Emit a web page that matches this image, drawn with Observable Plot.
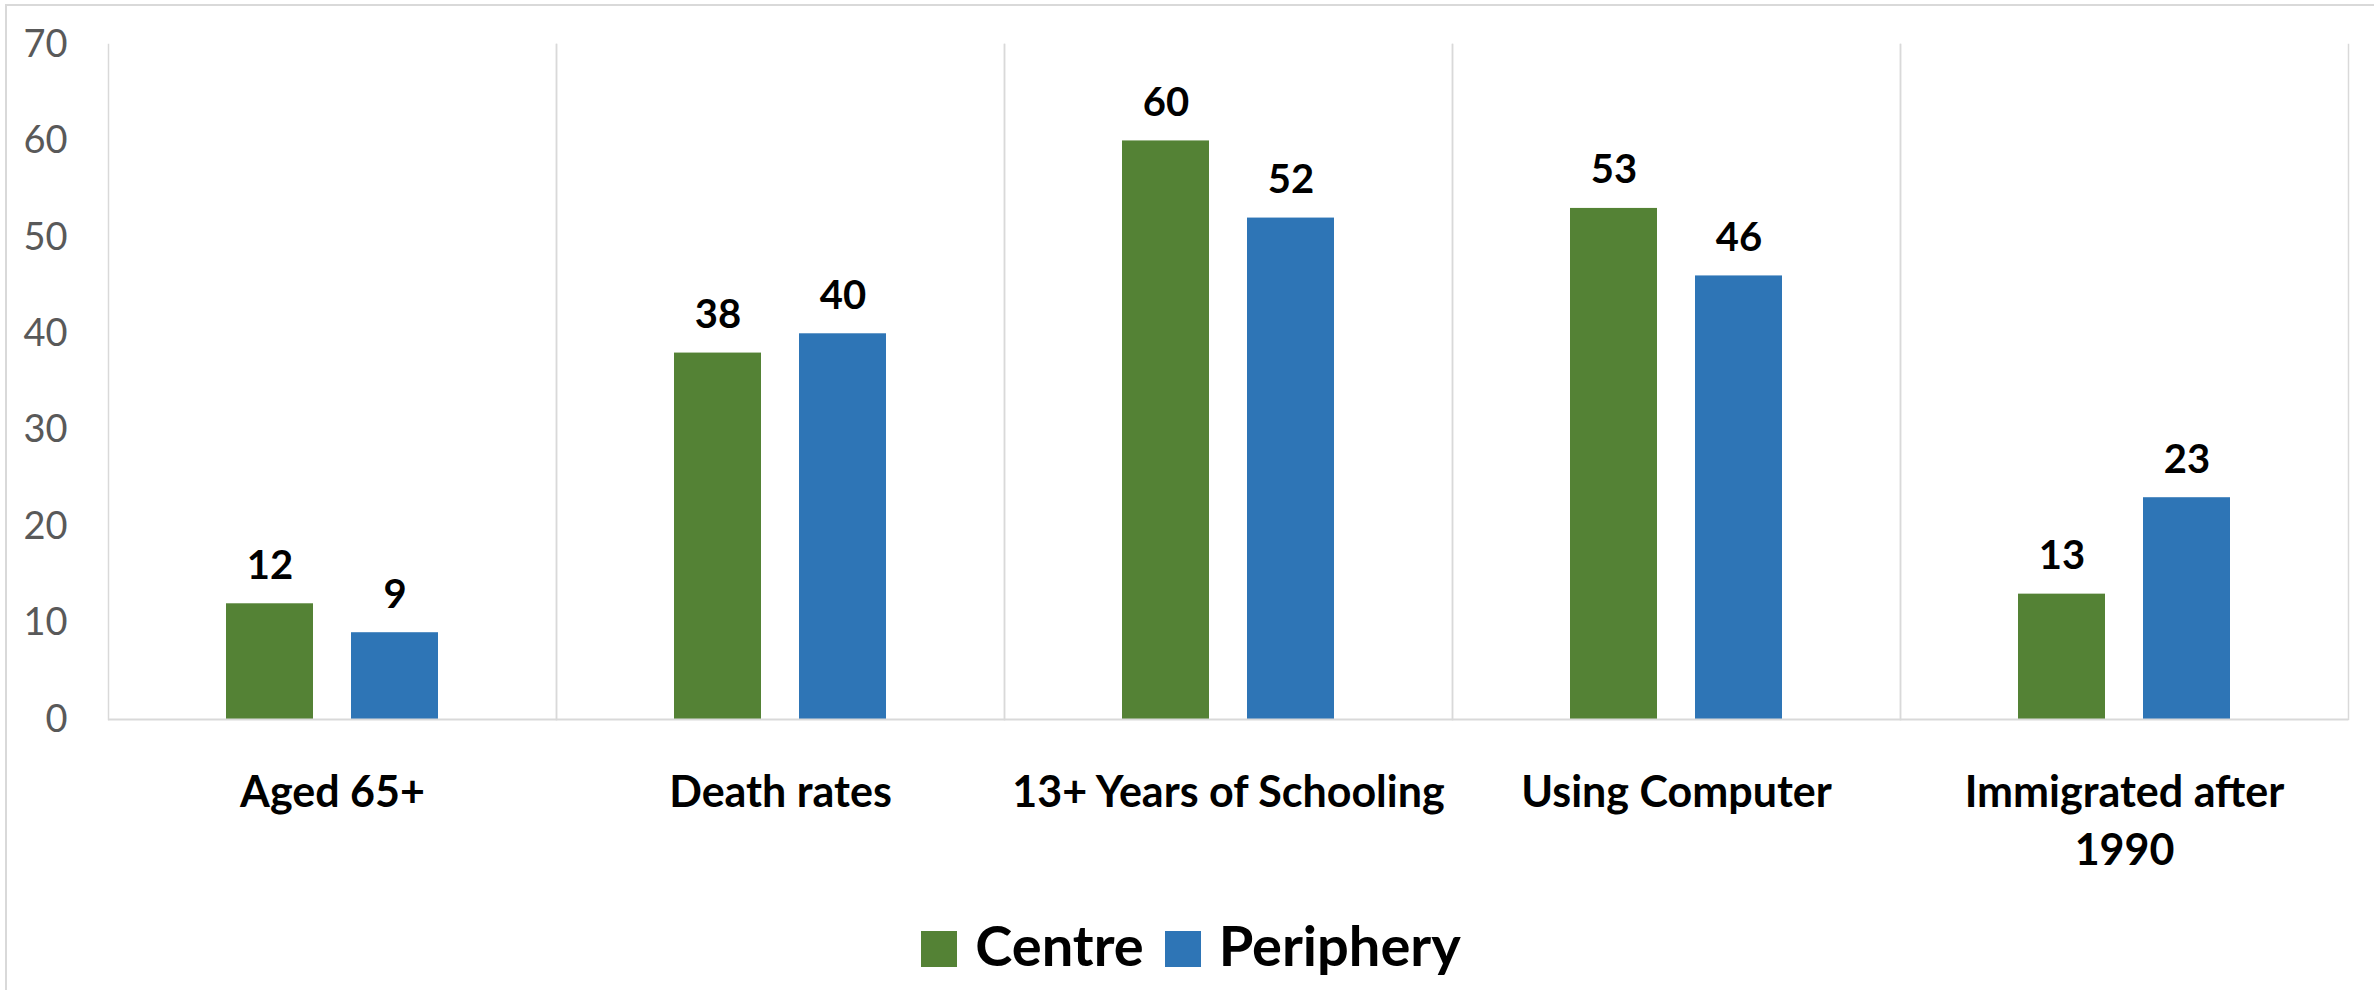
<!DOCTYPE html>
<html>
<head>
<meta charset="utf-8">
<script src="https://cdn.jsdelivr.net/npm/d3@7"></script>
<script src="https://cdn.jsdelivr.net/npm/@observablehq/plot@0.6"></script>
<style>
html, body { margin: 0; padding: 0; background: #fff; overflow: hidden; width: 2374px; height: 990px; }
#outer { position: absolute; left: 5px; top: 4px; width: 3000px; height: 2000px; border: 2px solid #d9d9d9; box-sizing: border-box; pointer-events: none; z-index: 10; }
#chart { position: absolute; left: 0; top: 0; }
#legend { position: absolute; left: 0; top: 917px; width: 2374px; height: 56px; display: flex; justify-content: center; align-items: flex-start; font-family: Lato, sans-serif; font-weight: bold; font-size: 56px; line-height: 56px; color: #000; padding-left: 8px; box-sizing: border-box; }
.item { display: flex; align-items: flex-start; margin-right: 21px; }
.item:last-child { margin-right: 0; }
.sw { width: 36px; height: 36px; margin-top: 14px; margin-right: 18px; }
</style>
</head>
<body>
<div id="outer"></div>
<div id="chart"></div>
<div id="legend"></div>
<script>
const categories = ["Aged 65+", "Death rates", "13+ Years of Schooling", "Using Computer", "Immigrated after 1990"];
const tickLabels = ["Aged 65+", "Death rates", "13+ Years of Schooling", "Using Computer", "Immigrated after\n1990"];
const series = ["Centre", "Periphery"];
const centre = [12, 38, 60, 53, 13];
const periphery = [9, 40, 52, 46, 23];
const yTicks = [0, 10, 20, 30, 40, 50, 60, 70];
const colors = ["#548235", "#2E75B6"];

const data = categories.flatMap((c, i) => [
  {cat: c, series: "Centre", value: centre[i]},
  {cat: c, series: "Periphery", value: periphery[i]}
]);

const plot = Plot.plot({
  width: 2374,
  height: 880,
  marginTop: 44,
  marginBottom: 161,
  marginLeft: 107,
  marginRight: 26,
  style: {fontFamily: "Lato, sans-serif", background: "white", overflow: "visible"},
  fx: {domain: categories, padding: 0, label: null},
  x: {domain: series, paddingInner: 0.3016, paddingOuter: 0.929, axis: null},
  y: {domain: [0, 70], label: null},
  color: {domain: series, range: colors},
  marks: [
    Plot.frame({anchor: "left", stroke: "#d9d9d9", strokeWidth: 1.5}),
    Plot.frame({anchor: "right", stroke: "#d9d9d9", strokeWidth: 1.5}),
    Plot.barY(data, {fx: "cat", x: "series", y: "value", fill: "series"}),
    Plot.ruleY([0], {stroke: "#d9d9d9", strokeWidth: 2}),
    Plot.text(data, {fx: "cat", x: "series", y: "value", text: d => String(d.value), lineAnchor: "bottom", dy: -25, fontSize: 40, fontWeight: "bold", fill: "black"}),
    Plot.axisY({ticks: yTicks, tickSize: 0, tickPadding: 41, fontSize: 38, color: "#595959", label: null}),
    Plot.axisFx({anchor: "bottom", tickSize: 0, tickPadding: 46, fontSize: 43, fontWeight: "bold", color: "black", lineHeight: 1.35, label: null,
      tickFormat: d => tickLabels[categories.indexOf(d)]})
  ]
});
document.getElementById("chart").appendChild(plot);

const legend = document.getElementById("legend");
series.forEach((s, i) => {
  const item = document.createElement("div");
  item.className = "item";
  const sw = document.createElement("div");
  sw.className = "sw";
  sw.style.background = colors[i];
  const lab = document.createElement("span");
  lab.textContent = s;
  item.appendChild(sw);
  item.appendChild(lab);
  legend.appendChild(item);
});
</script>
</body>
</html>
